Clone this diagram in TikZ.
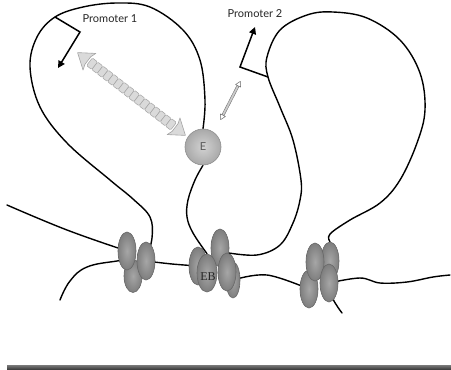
\documentclass[tikz,border=0pt]{standalone}
\usepackage{fontspec}
\setmainfont{Liberation Serif}
\newfontfamily\labelfont{Lato}
\usetikzlibrary{shapes.geometric,arrows.meta}
\pgfdeclarelayer{background}
\pgfsetlayers{background,main}

\definecolor{histin}{HTML}{A6A6A6}
\definecolor{histout}{HTML}{7E7E7E}
\definecolor{histedge}{HTML}{686868}
\definecolor{enhin}{HTML}{D2D2D2}
\definecolor{enhout}{HTML}{A9A9A9}
\definecolor{enhedge}{HTML}{8E8E8E}
\definecolor{loopfill}{HTML}{DADADA}
\definecolor{loopedge}{HTML}{A4A4A4}

\tikzset{
  dna/.style={line width=1.4pt, black, line cap=round, line join=round},
  histone/.style={ellipse, draw=histedge, line width=0.6pt,
    inner color=histin, outer color=histout,
    minimum width=18pt, minimum height=38pt, inner sep=0pt},
  enhancer/.style={circle, draw=enhedge, line width=0.6pt,
    inner color=enhin, outer color=enhout, minimum size=36pt, inner sep=0pt,
    font=\labelfont\fontsize{11}{11}\selectfont, text=black!65},
  lbl/.style={font=\labelfont\fontsize{11}{11}\selectfont, text=black!85, inner sep=0pt},
  promoter/.style={line width=1.5pt, black, line join=miter,
    -{Triangle[length=7pt,width=7pt]}},
  bead/.style={fill=loopfill, draw=loopedge, line width=0.5pt, rounded corners=1.2pt},
  bighead/.style={fill=loopfill, draw=loopedge, line width=0.6pt, line join=round},
  smallshaft/.style={fill=black!20, draw=black!55, line width=0.4pt},
  smallhead/.style={fill=white, draw=black!60, line width=0.5pt, line join=round},
}

\begin{document}
\begin{tikzpicture}[x=1pt, y=-1pt]
  \useasboundingbox (0,0) rectangle (451,370);

  % free ends and bends of the chromatin fibre
  \coordinate (lstart) at (7,205);
  \coordinate (lowstart) at (60,300);
  \coordinate (rend) at (450,275);
  \coordinate (tail) at (342,313);
  \coordinate (p1) at (55,17);
  \coordinate (p1bend) at (80,32);
  \coordinate (p1tip) at (58,68);
  \coordinate (p2) at (268,77);
  \coordinate (p2bend) at (240,67);
  \coordinate (p2tip) at (255,27);

  % left nucleosome cluster
  \node[histone, minimum height=33pt] (L3) at (133,276) {};
  \node[histone] (L1) at (127,251) {};
  \node[histone] (L2) at (146,261) {};

  % middle nucleosome cluster (enhancer-bound)
  \node[histone] (MC) at (220,248) {};
  \node[histone] (MA) at (198,266) {};
  \node[histone, minimum width=20pt] (MB) at (207,273) {};
  \node[histone, minimum width=14pt, minimum height=36pt] (ME) at (233,280) {};
  \node[histone] (MD) at (227,272) {};
  \node[font=\fontsize{12}{12}\selectfont, text=black!85, inner sep=0pt] (eb) at (208,277) {EB};

  % right nucleosome cluster
  \node[histone] (R2) at (330,261) {};
  \node[histone] (R3) at (309,289) {};
  \node[histone] (R1) at (315,262) {};
  \node[histone] (R4) at (329,283) {};

  % enhancer
  \node[enhancer] (enh) at (203,147) {E};

  % labels
  \node[lbl] (prom1) at (110,19) {Promoter 1};
  \node[lbl] (prom2) at (255,14) {Promoter 2};

  \begin{pgfonlayer}{background}
    \fill[white] (0,0) rectangle (451,370);
    % fibre entering from the left
    \draw[dna] plot[smooth, tension=0.7] coordinates {(lstart) (67,230) (L1.center)};
    \draw[dna] plot[smooth, tension=0.7] coordinates {(lowstart) (70,281) (87,267) (117,261) (L3.north)};
    % loop carrying promoter 1 and the enhancer
    \draw[dna] plot[smooth, tension=0.6] coordinates {
      (L2.center) (152,238) (150,217) (133,199) (110,180) (67,143) (40,107)
      (30,67) (37,37) (p1) (83,7) (117,3) (150,7) (183,30) (200,60)
      (205,100) (enh.north)};
    \draw[dna] plot[smooth, tension=0.6] coordinates {
      (enh.south) (195,180) (188,200) (187,217) (193,233) (MB.north)};
    % linker between left and middle clusters
    \draw[dna] plot[smooth, tension=0.6] coordinates {(L2.center) (172,264) (MA.center)};
    % loop carrying promoter 2
    \draw[dna] plot[smooth, tension=0.6] coordinates {
      (MD.north) (257,255) (280,245) (293,223) (300,200) (301,180) (293,140)
      (280,107) (p2) (267,57) (280,30) (307,15) (333,12) (367,18) (400,40)
      (420,73) (425,110) (417,143) (400,180) (380,203) (350,220) (330,234) (R2.north)};
    % linker between middle and right clusters
    \draw[dna] plot[smooth, tension=0.6] coordinates {(ME.center) (267,275) (R3.center)};
    % fibre leaving to the right
    \draw[dna] plot[smooth, tension=0.6] coordinates {
      (R4.center) (360,278) (380,283) (407,282) (433,277) (rend)};
    \draw[dna] plot[smooth, tension=0.6] coordinates {(R4.center) (333,299) (tail)};
  \end{pgfonlayer}

  % promoter arrows
  \draw[promoter] (p1) -- (p1bend) -- (p1tip);
  \draw[promoter] (p2) -- (p2bend) -- (p2tip);

  % long-range looping interaction (beaded double arrow)
  \begin{scope}[shift={(131.5,94)}, rotate=-37.5]
    \foreach \i in {0,...,15}
      \draw[bead] ({-53+\i*6.625},-4.8) rectangle ++(6.625,9.6);
    \filldraw[bighead] (-53,-10.5) -- (-68,0) -- (-53,10.5) -- (-55,4.8) -- (-55,-4.8) -- cycle;
    \filldraw[bighead] (53,-10.5) -- (68,0) -- (53,10.5) -- (55,4.8) -- (55,-4.8) -- cycle;
  \end{scope}

  % short-range interaction (thin double arrow)
  \begin{scope}[shift={(230.5,100.5)}, rotate=62.8]
    \filldraw[smallshaft] (-16.5,-1.2) rectangle (16.5,1.2);
    \filldraw[smallhead] (-16.5,-2.8) -- (-21.5,0) -- (-16.5,2.8) -- cycle;
    \filldraw[smallhead] (16.5,-2.8) -- (21.5,0) -- (16.5,2.8) -- cycle;
  \end{scope}

  % baseline bar
  \shade[top color=black!55, bottom color=black!80] (7,365.5) rectangle (451,370);
\end{tikzpicture}
\end{document}
